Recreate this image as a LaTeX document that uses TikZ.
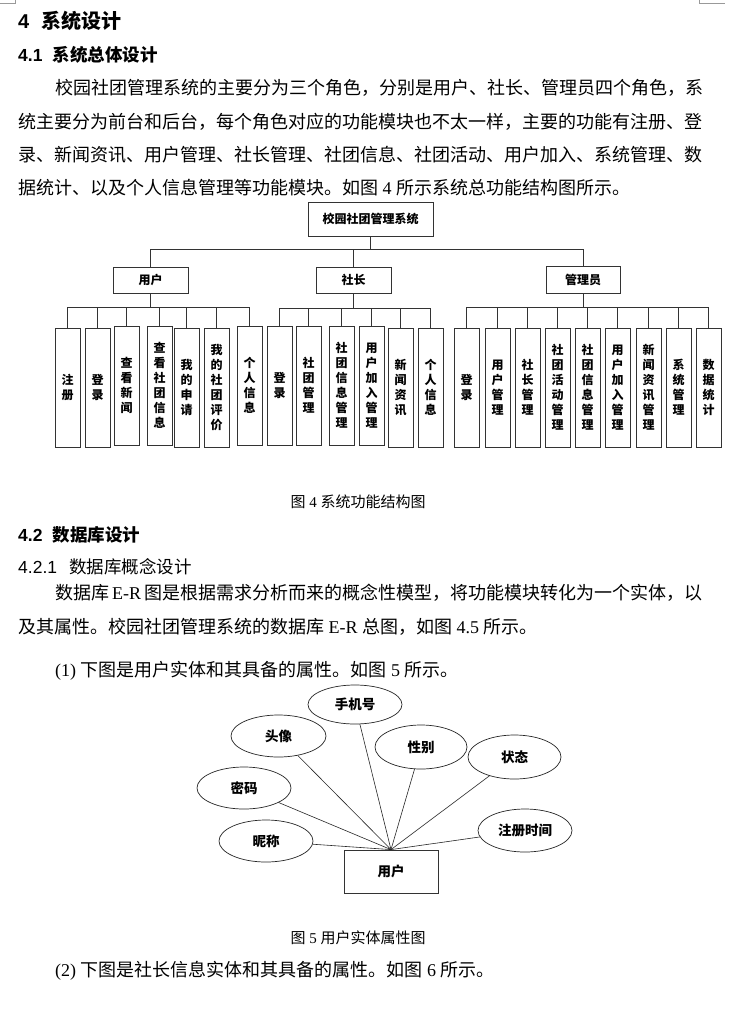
\documentclass[tikz,border=0pt]{standalone}
\usepackage{fontspec}
\setmainfont{Noto Sans CJK SC}
\newfontfamily\tnr{Liberation Serif}
\newfontfamily\arl{Liberation Sans}
\usetikzlibrary{shapes.geometric}
\XeTeXlinebreaklocale "zh"
\XeTeXlinebreakskip=0pt plus 4pt
\newcommand\myrm[1]{{\tnr #1}}
\newcommand\jl[2]{\hbox to #1{#2}}
\begin{document}
\begin{tikzpicture}[x=1pt,y=-1pt,
  bodytxt/.style={inner sep=0, anchor=west, font=\fontsize{18}{20}\selectfont},
  captxt/.style={inner sep=0, font=\fontsize{15}{16}\selectfont},
  hda/.style={inner sep=0, anchor=west, font=\fontsize{20}{22}\selectfont\bfseries},
  hdb/.style={inner sep=0, anchor=west, font=\fontsize{17.5}{20}\selectfont\bfseries},
  hdc/.style={inner sep=0, anchor=west, font=\fontsize{17.5}{20}\selectfont},
  box/.style={draw=black!80, line width=0.8pt, fill=white, inner sep=0, font=\fontsize{12}{14}\selectfont\bfseries},
  leaf/.style={box, minimum width=25pt, minimum height=119pt, align=center, font=\fontsize{12}{15}\selectfont\bfseries},
  conn/.style={draw=black!80, line width=0.8pt},
  attr/.style={ellipse, draw=black!85, line width=0.7pt, inner sep=0, font=\fontsize{13.5}{14}\selectfont\bfseries},
  erline/.style={draw=black!85, line width=0.6pt},
  cornermark/.style={draw=black!40, line width=0.5pt}]
\useasboundingbox[fill=white] (0,0) rectangle (729,1030);
% corner marks
\draw[cornermark] (0,3) -- (15,3) -- (15,0);
\draw[cornermark] (699,0) -- (699,3) -- (725,3);
% headings and text
\node[hda] (h1) at (18,21) {{\arl 4}\hspace{12pt}系统设计};
\node[hdb] (h2) at (18,55) {{\arl 4.1}\hspace{10pt}系统总体设计};
\node[bodytxt] (p1) at (55,88) {\jl{645pt}{校园社团管理系统的主要分为三个角色，分别是用户、社长、管理员四个角色，系}};
\node[bodytxt] (p2) at (18,122) {\jl{682pt}{统主要分为前台和后台，每个角色对应的功能模块也不太一样，主要的功能有注册、登}};
\node[bodytxt] (p3) at (18,155) {\jl{682pt}{录、新闻资讯、用户管理、社长管理、社团信息、社团活动、用户加入、系统管理、数}};
\node[bodytxt] (p4) at (18,188) {据统计、以及个人信息管理等功能模块。如图\myrm{ 4 }所示系统总功能结构图所示。};
% tree
\node[box, minimum width=125pt, minimum height=34pt] (root) at (370.5,219) {校园社团管理系统};
\node[box, minimum width=75pt, minimum height=26pt] (user) at (150.5,280) {用户};
\node[box, minimum width=75pt, minimum height=26pt] (head) at (353.5,280) {社长};
\node[box, minimum width=74pt, minimum height=27pt] (admin) at (583,279.5) {管理员};
\coordinate (rb) at (370.5,249);
\draw[conn] (root.south) -- (rb);
\draw[conn] (user.north) |- (rb);
\draw[conn] (head.north) |- (rb);
\draw[conn] (admin.north) |- (rb);
\coordinate (ub) at (150.5,307);
\coordinate (hb) at (353.5,308);
\coordinate (ab) at (583,307);
\draw[conn] (user.south) -- (ub);
\draw[conn] (head.south) -- (hb);
\draw[conn] (admin.south) -- (ab);
\foreach \n/\x/\t/\lab in {1/67.5/328/{注\\册},2/97.5/328/{登\\录},3/126.5/326/{查\\看\\新\\闻},4/159.5/326/{查\\看\\社\\团\\信\\息},5/186.5/328/{我\\的\\申\\请},6/216.5/328/{我\\的\\社\\团\\评\\价},7/249.5/326/{个\\人\\信\\息}}{
  \node[leaf] (u\n) at (\x,\t+59.5) {\lab};
  \draw[conn] (u\n.north) |- (ub);
}
\foreach \n/\x/\t/\lab in {1/279.5/326/{登\\录},2/308.5/326/{社\\团\\管\\理},3/341.5/326/{社\\团\\信\\息\\管\\理},4/371.5/326/{用\\户\\加\\入\\管\\理},5/400.5/328/{新\\闻\\资\\讯},6/430.5/328/{个\\人\\信\\息}}{
  \node[leaf] (s\n) at (\x,\t+59.5) {\lab};
  \draw[conn] (s\n.north) |- (hb);
}
\foreach \n/\x/\lab in {1/466.5/{登\\录},2/497.5/{用\\户\\管\\理},3/527.5/{社\\长\\管\\理},4/557.5/{社\\团\\活\\动\\管\\理},5/587.5/{社\\团\\信\\息\\管\\理},6/617.5/{用\\户\\加\\入\\管\\理},7/648.5/{新\\闻\\资\\讯\\管\\理},8/678.5/{系\\统\\管\\理},9/708.5/{数\\据\\统\\计}}{
  \node[leaf] (a\n) at (\x,387.5) {\lab};
  \draw[conn] (a\n.north) |- (ab);
}
\node[captxt] (c1) at (358,502) {图\myrm{ 4 }系统功能结构图};
\node[hdb] (h3) at (18,535) {{\arl 4.2}\hspace{10pt}数据库设计};
\node[hdc] (h4) at (18,567) {{\arl 4.2.1}\hspace{12pt}数据库概念设计};
\node[bodytxt] (q1) at (55,593) {\jl{645pt}{数据库\myrm{ E-R }图是根据需求分析而来的概念性模型，将功能模块转化为一个实体，以}};
\node[bodytxt] (q2) at (18,627) {及其属性。校园社团管理系统的数据库\myrm{ E-R }总图，如图\myrm{ 4.5 }所示。};
\node[bodytxt] (q3) at (55,671) {\myrm{(1) }下图是用户实体和其具备的属性。如图\myrm{ 5 }所示。};
% ER diagram
\node[box, minimum width=94pt, minimum height=43pt, font=\fontsize{13.5}{14}\selectfont\bfseries] (ent) at (391,871.5) {用户};
\node[attr, minimum width=94pt, minimum height=39pt] (phone) at (355,704.5) {手机号};
\node[attr, minimum width=95pt, minimum height=42pt] (avatar) at (278.5,736) {头像};
\node[attr, minimum width=92pt, minimum height=44pt] (sex) at (421,747) {性别};
\node[attr, minimum width=93pt, minimum height=44pt] (state) at (514.5,757) {状态};
\node[attr, minimum width=94pt, minimum height=42pt] (pwd) at (244,788) {密码};
\node[attr, minimum width=94pt, minimum height=42pt] (nick) at (266,841) {昵称};
\node[attr, minimum width=94pt, minimum height=43pt] (regt) at (525,830.5) {注册时间};
\foreach \a in {phone,avatar,sex,state,pwd,nick,regt}{
  \draw[erline] (\a) -- (ent.north);
}
\node[captxt] (c2) at (358,938) {图\myrm{ 5 }用户实体属性图};
\node[bodytxt] (q4) at (55,971) {\myrm{(2) }下图是社长信息实体和其具备的属性。如图\myrm{ 6 }所示。};
\end{tikzpicture}
\end{document}
